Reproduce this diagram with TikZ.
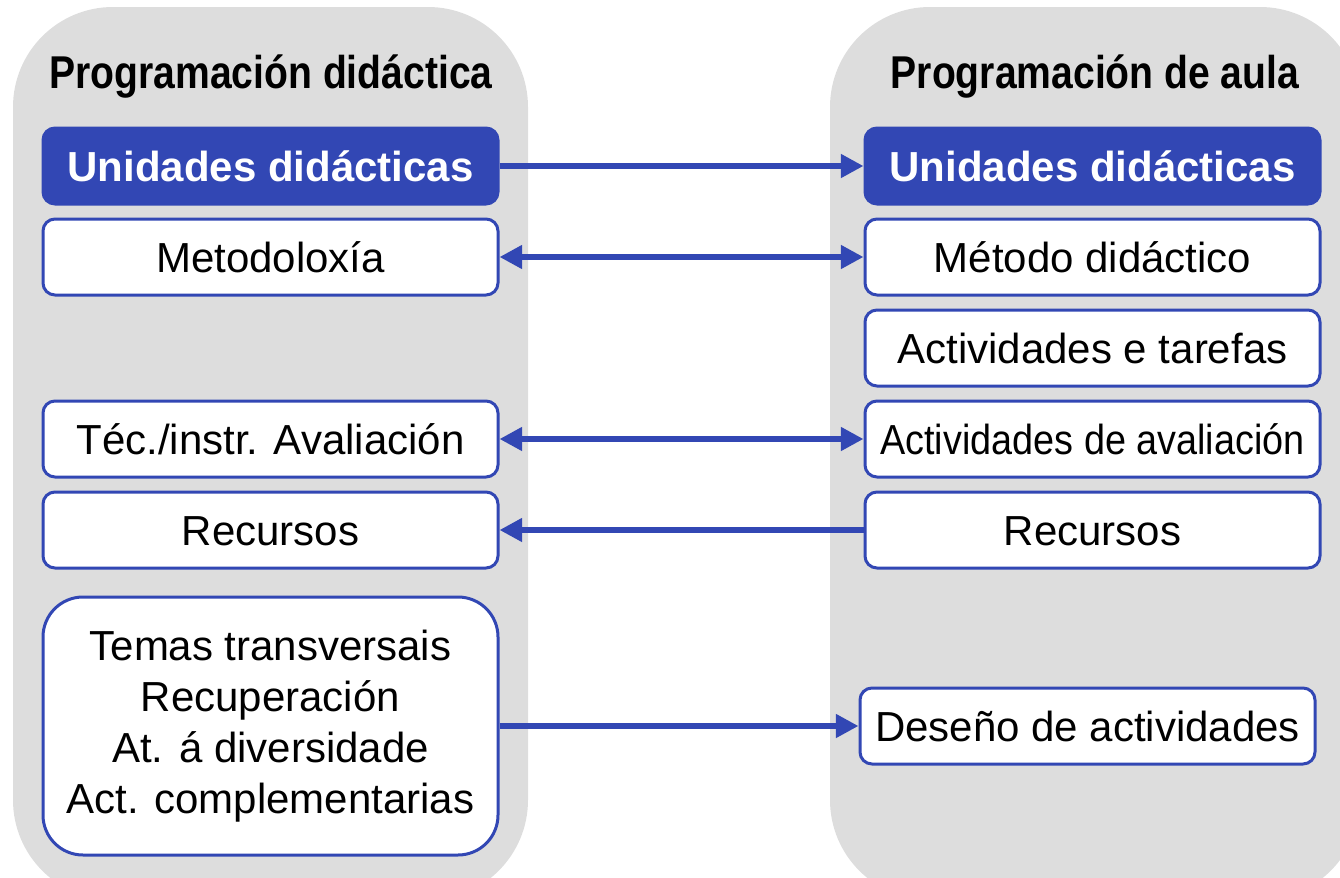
\documentclass[tikz,border=0pt]{standalone}
\usepackage{fontspec}
\usepackage{graphicx}
\usepackage{tikz}
\usetikzlibrary{arrows.meta, positioning}
\setmainfont{Liberation Sans}
\definecolor{PanelGray}{HTML}{DDDDDD}
\definecolor{BoxBlue}{HTML}{3247B4}
\newcommand{\bodyfont}{\fontsize{31.5}{38.3}\selectfont}
\newcommand{\titlefont}{\fontsize{34.5}{40}\selectfont\bfseries}
\newcommand{\narrowtext}[2]{\scalebox{#1}[1]{#2}}

\begin{document}
\begin{tikzpicture}[x=0.75pt, y=-0.75pt,
    panel/.style={fill=PanelGray, rounded corners=75pt},
    itembox/.style={draw=BoxBlue, line width=2.25pt, fill=white, rounded corners=9pt,
                    minimum width=341.25pt, minimum height=57pt, inner sep=0pt,
                    text height=22.5pt, text depth=0pt, font=\bodyfont},
    headbox/.style={itembox, fill=BoxBlue, text=white, font=\bodyfont\bfseries},
    listbox/.style={draw=BoxBlue, line width=2.25pt, fill=white, rounded corners=30pt,
                    minimum width=341.25pt, minimum height=193.5pt, inner sep=0pt,
                    align=center, font=\bodyfont},
    link/.style={BoxBlue, line width=5pt, -{Triangle[length=17pt,width=17pt]}},
    both/.style={BoxBlue, line width=5pt,
                 {Triangle[length=17pt,width=17pt]}-{Triangle[length=17pt,width=17pt]}},
    node distance=9pt]
    \clip (0,0) rectangle (1340,878);

    % Grey columns
    \fill[panel] (13,7) rectangle (528,900);
    \fill[panel] (830,7) rectangle (1360,900);

    % Column titles
    \node[anchor=base, font=\titlefont] (ltitle) at (271,88)
        {\narrowtext{0.85}{Programación didáctica}};
    \node[anchor=base, font=\titlefont] (rtitle) at (1095,88)
        {\narrowtext{0.85}{Programación de aula}};

    % Left column: programación didáctica
    \node[headbox] (lunid) at (270.5,166) {Unidades didácticas};
    \node[itembox, below=of lunid] (lmet) {Metodoloxía};
    \node[itembox] (ltec) at (270.5,439) {Téc./instr. Avaliación};
    \node[itembox, below=of ltec] (lrec) {Recursos};
    \node[listbox] (ltemas) at (270.5,726) {
        Temas transversais\\
        Recuperación\\
        At. á diversidade\\
        Act. complementarias
    };

    % Right column: programación de aula
    \node[headbox] (runid) at (1092.5,166) {Unidades didácticas};
    \node[itembox, below=of runid] (rmet) {Método didáctico};
    \node[itembox, below=of rmet] (ract) {Actividades e tarefas};
    \node[itembox, below=of ract] (raval) {\narrowtext{0.9}{Actividades de avaliación}};
    \node[itembox, below=of raval] (rrec) {Recursos};
    \node[itembox] (rdes) at (1087.5,726) {Deseño de actividades};

    % Links between both
    \draw[link] (lunid) -- (runid);
    \draw[both] (lmet) -- (rmet);
    \draw[both] (ltec) -- (raval);
    \draw[link] (rrec) -- (lrec);
    \draw[link] (ltemas) -- (rdes);
\end{tikzpicture}
\end{document}
